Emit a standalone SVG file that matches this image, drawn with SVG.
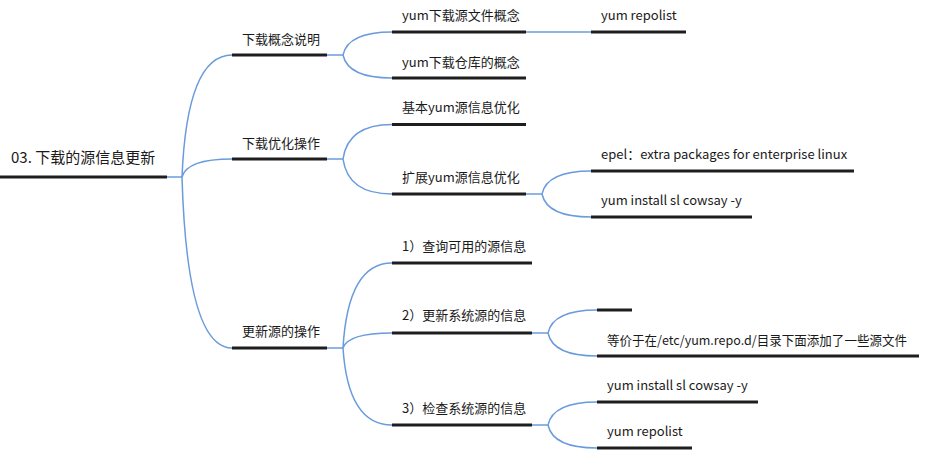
<svg xmlns="http://www.w3.org/2000/svg" width="938" height="459" viewBox="0 0 938 459">
<style>
.t{font-family:"Noto Sans CJK SC","Noto Sans",sans-serif;font-size:13px;fill:#1a1a1a}
.r{font-size:15px}
.u{stroke:#1e1e1e;stroke-width:3;fill:none}
.c{stroke:#6a9bdc;stroke-width:1.5;fill:none}
</style>
<rect width="938" height="459" fill="#fff"/>
<g id="connectors">
<path class="c" d="M167,177H182"/>
<path class="c" d="M182,177Q187,55 232,55"/>
<path class="c" d="M182,177Q187,159 232,159"/>
<path class="c" d="M182,177Q187,348 232,348"/>
<path class="c" d="M327,55H343"/>
<path class="c" d="M327,159H343"/>
<path class="c" d="M327,348H343"/>
<path class="c" d="M343,55Q348,32 392,32"/>
<path class="c" d="M343,55Q348,78 392,78"/>
<path class="c" d="M526,32H591"/>
<path class="c" d="M343,159Q348,124.5 392,124.5"/>
<path class="c" d="M343,159Q348,194 392,194"/>
<path class="c" d="M526,194H542"/>
<path class="c" d="M542,194Q547,171 591,171"/>
<path class="c" d="M542,194Q547,217 591,217"/>
<path class="c" d="M343,348Q348,263 392,263"/>
<path class="c" d="M343,348Q348,333 392,333"/>
<path class="c" d="M343,348Q348,425 392,425"/>
<path class="c" d="M532,333H548"/>
<path class="c" d="M532,425H548"/>
<path class="c" d="M548,333Q553,310 597,310"/>
<path class="c" d="M548,333Q553,356 597,356"/>
<path class="c" d="M548,425Q553,402 597,402"/>
<path class="c" d="M548,425Q553,448 597,448"/>
</g>
<g id="root"><text class="t r" x="11" y="163">03. 下载的源信息更新</text><path class="u" d="M0,177H167"/></g>
<g id="n1"><text class="t" x="242" y="44">下载概念说明</text><path class="u" d="M232,55H327"/></g>
<g id="n2"><text class="t" x="242" y="148">下载优化操作</text><path class="u" d="M232,159H327"/></g>
<g id="n3"><text class="t" x="242" y="336">更新源的操作</text><path class="u" d="M232,348H327"/></g>
<g id="n1a"><text class="t" x="402" y="20">yum下载源文件概念</text><path class="u" d="M392,32H526"/></g>
<g id="n1a1"><text class="t" x="601" y="20">yum repolist</text><path class="u" d="M591,32H686"/></g>
<g id="n1b"><text class="t" x="402" y="67">yum下载仓库的概念</text><path class="u" d="M392,78H526"/></g>
<g id="n2a"><text class="t" x="402" y="112">基本yum源信息优化</text><path class="u" d="M392,124.5H526"/></g>
<g id="n2b"><text class="t" x="402" y="182">扩展yum源信息优化</text><path class="u" d="M392,194H526"/></g>
<g id="n2b1"><text class="t" x="601" y="159">epel：extra packages for enterprise linux</text><path class="u" d="M591,171H854"/></g>
<g id="n2b2"><text class="t" x="601" y="205">yum install sl cowsay -y</text><path class="u" d="M591,217H752"/></g>
<g id="n3a"><text class="t" x="402" y="251">1）查询可用的源信息</text><path class="u" d="M392,263H532"/></g>
<g id="n3b"><text class="t" x="402" y="320">2）更新系统源的信息</text><path class="u" d="M392,333H532"/></g>
<g id="n3b1"><path class="u" d="M597,310H632"/></g>
<g id="n3b2"><text class="t" x="607" y="345" textLength="300" lengthAdjust="spacingAndGlyphs">等价于在/etc/yum.repo.d/目录下面添加了一些源文件</text><path class="u" d="M597,356H919"/></g>
<g id="n3c"><text class="t" x="402" y="413">3）检查系统源的信息</text><path class="u" d="M392,425H532"/></g>
<g id="n3c1"><text class="t" x="607" y="390">yum install sl cowsay -y</text><path class="u" d="M597,402H758"/></g>
<g id="n3c2"><text class="t" x="607" y="436">yum repolist</text><path class="u" d="M597,448H692"/></g>
</svg>
